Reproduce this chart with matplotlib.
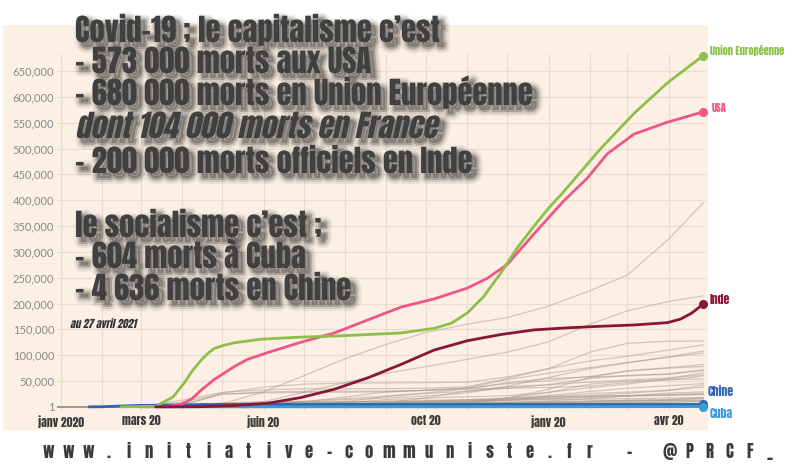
import matplotlib
matplotlib.use("Agg")
import matplotlib.pyplot as plt
import matplotlib.dates as mdates
import matplotlib.patheffects as pe
from matplotlib.patches import Rectangle
from matplotlib.transforms import Affine2D
import numpy as np
import pandas as pd

# --- data (cumulative deaths, thousands) ---
eu_dates = ["2020-02-15", "2020-03-12", "2020-03-25", "2020-04-03", "2020-04-08", "2020-04-15",
            "2020-04-20", "2020-04-25", "2020-05-02", "2020-05-10", "2020-05-30", "2020-06-29",
            "2020-07-24", "2020-09-12", "2020-10-07", "2020-10-20", "2020-11-01", "2020-11-13",
            "2020-11-26", "2020-12-09", "2020-12-21", "2021-01-01", "2021-01-10", "2021-01-20",
            "2021-02-09", "2021-03-06", "2021-03-31", "2021-04-27"]
eu_vals = [0.001, 1.0, 19, 48, 68, 90, 103, 113, 119, 124, 131, 135,
           137, 143, 152, 162, 182, 213, 259, 310, 350, 385, 410, 440,
           500, 568, 627, 680]

usa_dates = ["2020-02-29", "2020-03-20", "2020-03-31", "2020-04-08", "2020-04-15", "2020-04-25",
             "2020-05-10", "2020-05-20", "2020-06-04", "2020-06-29", "2020-07-24", "2020-08-18",
             "2020-09-12", "2020-10-07", "2020-11-01", "2020-11-16", "2020-12-01", "2020-12-21",
             "2021-01-12", "2021-01-30", "2021-02-14", "2021-03-06", "2021-03-31", "2021-04-27"]
usa_vals = [0.001, 0.3, 5, 15, 32, 53, 78, 92, 105, 125, 143, 168,
            193, 209, 230, 249, 276, 335, 398, 443, 490, 528, 551, 571]

inde_dates = ["2020-03-12", "2020-04-15", "2020-05-10", "2020-06-04", "2020-06-29", "2020-07-24",
              "2020-08-18", "2020-09-12", "2020-10-07", "2020-11-01", "2020-11-26", "2020-12-21",
              "2021-01-15", "2021-02-09", "2021-03-06", "2021-03-31", "2021-04-10", "2021-04-18",
              "2021-04-27"]
inde_vals = [0.001, 0.4, 2.5, 7, 18, 34, 56, 82, 110, 128, 140, 149,
             153, 156, 158.5, 163, 170, 181, 199]

chine_dates = ["2020-01-22", "2020-02-01", "2020-02-15", "2020-03-01", "2020-03-15", "2020-04-17",
               "2021-04-27"]
chine_vals = [0.017, 0.26, 1.67, 2.87, 3.2, 4.63, 4.636]

cuba_dates = ["2020-03-18", "2020-06-01", "2020-09-01", "2020-12-01", "2021-02-01", "2021-04-01",
              "2021-04-27"]
cuba_vals = [0.001, 0.083, 0.088, 0.13, 0.23, 0.45, 0.604]

# other countries (grey), monthly
other_dates = ["2019-12-29", "2020-03-01", "2020-04-01", "2020-05-01", "2020-06-01", "2020-07-01",
               "2020-08-01", "2020-09-01", "2020-10-01", "2020-11-01", "2020-12-01", "2021-01-01",
               "2021-02-01", "2021-03-01", "2021-04-01", "2021-04-27"]
brazil = [0, 0, 0.2, 6, 29, 60, 93, 121, 144, 160, 173, 195, 225, 255, 325, 395]
mexico = [0, 0, 0.03, 2, 10, 28, 47, 65, 78, 92, 106, 126, 160, 186, 204, 215]
uk = [0, 0, 2.5, 27, 38, 44, 46, 46.5, 47, 47.5, 58, 74, 106, 123, 127, 127.5]
italy = [0, 0.03, 13, 28, 33, 35, 35, 35.5, 36, 39, 55, 74, 89, 98, 110, 120]
russia = [0, 0, 0.02, 1.1, 4.7, 9.3, 14, 17, 21, 27, 40, 57, 74, 85, 97, 108]
france = [0, 0.002, 4, 24, 29, 30, 30.3, 30.6, 32, 37, 53, 65, 76, 86, 96, 104]
germany = [0, 0, 0.8, 6.6, 8.5, 9, 9.1, 9.3, 9.5, 10.5, 17, 34, 57, 70, 76, 82]
spain = [0, 0, 9, 25, 27, 28, 28.4, 29, 32, 36, 45, 51, 59, 69, 75, 78]
colombia = [0, 0, 0, 0.3, 1, 3.5, 10, 20, 26, 30, 36, 43, 55, 61, 64, 72]
iran = [0, 0.05, 3, 6, 7.8, 11, 16, 21, 27, 35, 47, 55, 58, 60, 63, 70]
argentina = [0, 0, 0.02, 0.2, 0.6, 1.3, 3.4, 8.5, 17, 31, 39, 43, 48, 52, 56, 62]
peru = [0, 0, 0, 1, 4.5, 9.5, 19, 29, 32, 34.5, 36, 37.7, 40, 47, 52, 60]
south_africa = [0, 0, 0, 0.1, 0.7, 2.7, 8, 14, 17, 19.5, 21.5, 28, 44, 50, 53, 54]
poland = [0, 0, 0, 0.6, 1, 1.4, 1.7, 2, 2.6, 5.8, 17, 28, 37, 44, 55, 66]
indonesia = [0, 0, 0.1, 0.8, 1.6, 3, 5, 7.3, 10.8, 14, 17, 22, 30, 36, 41, 45]
turkey = [0, 0, 0.2, 3, 4.5, 5.2, 5.7, 6.3, 8.4, 10, 13.4, 20, 26, 28.5, 32, 38]
ukraine = [0, 0, 0, 0.2, 0.6, 1.2, 1.7, 2.6, 4.6, 8, 13.5, 19, 22, 26, 32, 42]
czechia = [0, 0, 0, 0.2, 0.3, 0.35, 0.38, 0.43, 0.7, 4, 8.3, 11.6, 16, 21, 26.7, 29]
belgium = [0, 0, 0.8, 7.6, 9.5, 9.8, 9.85, 9.9, 10, 11.5, 16.5, 19.5, 21, 22, 23, 24]
chile = [0, 0, 0, 0.2, 1, 5.7, 9.5, 11.2, 12.7, 14, 15, 16.5, 18.5, 20.5, 23.5, 26.5]
canada = [0, 0, 0.1, 3.4, 7.3, 8.6, 8.9, 9.1, 9.3, 10.1, 12, 15.6, 19.9, 21.9, 22.9, 24]
philippines = [0, 0, 0.1, 0.56, 0.95, 1.27, 1.98, 3.4, 5.3, 7.2, 8.5, 9.2, 10.5, 12.5, 13.4, 17]
pakistan = [0, 0, 0.01, 0.4, 1.6, 4.7, 6, 6.3, 6.6, 6.8, 8, 10.2, 11.5, 12.9, 14.2, 17]
bangladesh = [0, 0, 0, 0.2, 0.6, 1.8, 3, 3.9, 5.1, 5.9, 6.7, 7.6, 8.1, 8.4, 9, 11]
ecuador = [0, 0, 0.1, 1.6, 3.4, 4.5, 5.7, 6.6, 11.4, 12.4, 13, 14, 15, 16, 17.2, 18]
egypt = [0, 0, 0, 0.4, 0.9, 3.8, 4.9, 5.5, 5.9, 6.2, 6.6, 7.6, 9.3, 10.5, 12.2, 13]
japan = [0, 0, 0.06, 0.45, 0.89, 0.97, 1, 1.27, 1.56, 1.77, 2.1, 3.4, 5.8, 7.9, 9.1, 10]
bolivia = [0, 0, 0, 0.1, 0.4, 1.2, 3, 5.3, 7.8, 8.7, 8.9, 9.2, 10.4, 11.7, 12.3, 13]
others = [brazil, mexico, uk, italy, russia, france, germany, spain, colombia, iran, argentina,
          peru, south_africa, poland, indonesia, turkey, ukraine, czechia, belgium, chile, canada,
          philippines, pakistan, bangladesh, ecuador, egypt, japan, bolivia]

y_ticks = [1] + list(range(50000, 650001, 50000))
x_tick_dates = ["2020-01-01", "2020-03-01", "2020-06-01", "2020-10-01", "2021-01-01", "2021-04-01"]
x_tick_labels = ["janv 2020", "mars 20", "juin 20", "oct 20", "janv 20", "avr 20"]

title_lines = [
    ("Covid-19 ; le capitalisme c\u2019est", False, 42),
    ("- 573 000 morts aux USA", False, 73),
    ("- 680 000 morts en Union Europ\u00e9enne", False, 105),
    ("dont 104 000 morts en France", True, 138),
    ("- 200 000 morts officiels en Inde", False, 173),
    ("le socialisme c\u2019est ;", False, 237),
    ("- 604 morts \u00e0 Cuba", False, 268),
    ("- 4 636 morts en Chine", False, 300),
]
footer = "www.initiative-communiste.fr - @PRCF_"

C_EU, C_USA, C_IND = "#8dbf4b", "#ef5587", "#8a1538"
C_CHN, C_CUB = "#2b67b0", "#3b9ad9"
HEAVY = ["Anton", "DejaVu Sans"]


class Skewed(pe.AbstractPathEffect):
    """applies a slant to the glyph path, then hands it on to an inner effect"""

    def __init__(self, inner, deg=12):
        super().__init__()
        self.inner = inner
        self.deg = deg

    def draw_path(self, renderer, gc, tpath, affine, rgbFace=None):
        self.inner.draw_path(renderer, gc, tpath, Affine2D().skew_deg(self.deg, 0) + affine,
                             rgbFace)


W, H = 800, 467
fig = plt.figure(figsize=(W / 100, H / 100), dpi=100)
fig.patch.set_facecolor("white")


def fx(x):
    return x / W


def fy(y):
    return 1 - y / H


fig.patches.append(Rectangle((fx(3), fy(430)), (708 - 3) / W, (430 - 25) / H,
                             transform=fig.transFigure, facecolor="#fcf0e4",
                             edgecolor="none", zorder=-5))

ax = fig.add_axes([57 / W, fy(411), 649 / W, 357 / H])
ax.set_facecolor("none")
for s in ax.spines.values():
    s.set_visible(False)

to_dt = pd.to_datetime
for vals in others:
    ax.plot(to_dt(other_dates), np.array(vals) * 1000, color="#a89c90", alpha=0.5, lw=0.9,
            zorder=2)
ax.plot(to_dt(["2019-12-29", "2020-01-22"]), [1, 1], color="#9a9a9a", lw=1.3, zorder=2)

series = [(chine_dates, chine_vals, C_CHN), (cuba_dates, cuba_vals, C_CUB),
          (usa_dates, usa_vals, C_USA), (eu_dates, eu_vals, C_EU),
          (inde_dates, inde_vals, C_IND)]
for d, v, c in series:
    ax.plot(to_dt(d), np.array(v) * 1000, color=c, lw=2.0, zorder=3, solid_capstyle="round",
            solid_joinstyle="round")
    ax.plot(to_dt(d[-1:]), [v[-1] * 1000], "o", color=c, ms=5.5, zorder=4, clip_on=False)

ax.set_xlim(to_dt("2019-12-29"), to_dt("2021-04-29"))
ax.set_ylim(-8000, 683000)
ax.set_yticks(y_ticks)
ax.set_yticklabels([f"{v:,}" for v in y_ticks])
ax.set_xticks(to_dt(x_tick_dates))
ax.set_xticklabels(x_tick_labels)
ax.xaxis.set_minor_locator(mdates.MonthLocator())
ax.grid(True, axis="x", which="both", color="#e9dccf", lw=0.8, zorder=1)
ax.grid(True, axis="y", which="major", color="#e9dccf", lw=0.8, zorder=1)
ax.tick_params(axis="both", which="both", length=0)
ax.tick_params(axis="y", pad=2, labelsize=8, labelcolor="#8a8a8a")
ax.tick_params(axis="x", pad=3, labelsize=8.5, labelcolor="#3a3a3a")
for t in ax.get_yticklabels():
    t.set_family(["Lato", "DejaVu Sans"])
for t in ax.get_xticklabels():
    t.set_family(HEAVY)

shadow = [pe.Stroke(linewidth=9, foreground="black", alpha=0.06, offset=(3.5, -3.5)),
          pe.Stroke(linewidth=6, foreground="black", alpha=0.1, offset=(3.5, -3.5)),
          pe.Stroke(linewidth=3, foreground="black", alpha=0.2, offset=(3.5, -3.5)),
          pe.Normal()]
for txt, slant, base in title_lines:
    effects = [Skewed(e, 12) for e in shadow] if slant else shadow
    fig.text(fx(75), fy(base), txt, family=HEAVY, fontsize=22, color="#404040",
             va="baseline", ha="left", path_effects=effects, zorder=10)

fig.text(fx(70), fy(328), "au 27 avril 2021", family=HEAVY, fontsize=7.6, color="#333333",
         va="baseline", path_effects=[Skewed(pe.Normal(), 12)])

labels = [("Union Europ\u00e9enne", C_EU, 710, 50, 7.5), ("USA", C_USA, 712, 108, 7.5),
          ("Inde", C_IND, 710, 299, 8.5), ("Chine", C_CHN, 708, 392, 8.5),
          ("Cuba", C_CUB, 710, 413, 8.5)]
for txt, c, x, y, fs in labels:
    fig.text(fx(x), fy(y), txt, family=HEAVY, fontsize=fs, color=c, va="center", ha="left")

for i, ch in enumerate(footer):
    fig.text(fx(48 + i * 20.05), fy(451), ch, family=HEAVY, fontsize=12,
             color="#3a3a3a", va="center", ha="center")

fig.savefig("out.png", dpi=100)
